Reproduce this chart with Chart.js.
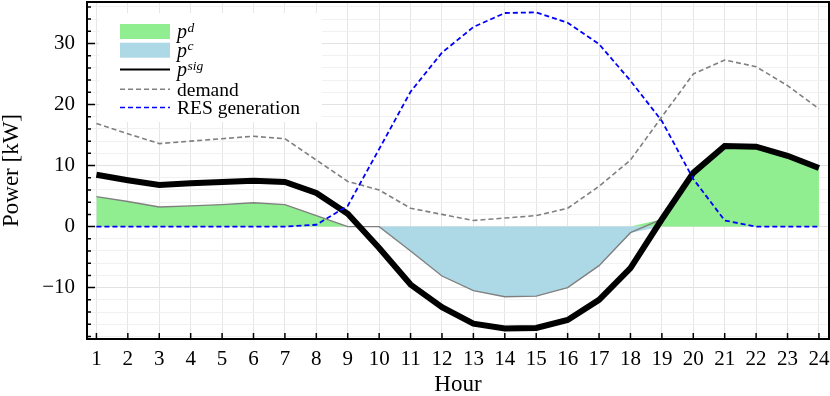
<!DOCTYPE html>
<html>
<head>
<meta charset="utf-8">
<title>Power</title>
<script src="https://cdn.jsdelivr.net/npm/chart.js@4.4.1/dist/chart.umd.min.js"></script>
<style>
  html, body { margin: 0; padding: 0; background: #fff; }
  #wrap { width: 830px; height: 396px; }
</style>
</head>
<body>
<div id="wrap"><canvas id="powerChart"></canvas></div>
<script>
// data (kW per hour)
var hours = [1, 2, 3, 4, 5, 6, 7, 8, 9, 10, 11, 12, 13, 14, 15, 16, 17, 18, 19, 20, 21, 22, 23, 24];
var pDischarge = [4.9, 4.1, 3.2, 3.4, 3.6, 3.9, 3.6, 1.8, 0, 0, 0, 0, 0, 0, 0, 0, 0, 0, 1.2, 8.8, 13.2, 13.1, 11.6, 9.6];
var pCharge = [0, 0, 0, 0, 0, 0, 0, 0, 0, 0, -4.0, -8.1, -10.5, -11.5, -11.4, -10.0, -6.4, -1.0, 0, 0, 0, 0, 0, 0];
var pNet = [4.9, 4.1, 3.2, 3.4, 3.6, 3.9, 3.6, 1.8, 0, 0, -4.0, -8.1, -10.5, -11.5, -11.4, -10.0, -6.4, -1.0, 1.2, 8.8, 13.2, 13.1, 11.6, 9.6];
var pSig = [8.5, 7.6, 6.8, 7.1, 7.3, 7.5, 7.3, 5.5, 2.1, -3.5, -9.5, -13.2, -15.9, -16.7, -16.6, -15.3, -12.0, -6.8, 1.2, 8.8, 13.2, 13.1, 11.6, 9.6];
var demand = [16.9, 15.2, 13.6, 14.0, 14.4, 14.8, 14.4, 10.9, 7.4, 6.0, 3.0, 2.0, 1.0, 1.4, 1.8, 3.0, 6.6, 10.9, 18.0, 25.0, 27.3, 26.2, 23.1, 19.3];
var resGeneration = [0, 0, 0, 0, 0, 0, 0, 0.3, 3.4, 12.7, 22.1, 28.5, 32.7, 35.0, 35.1, 33.4, 29.9, 23.9, 17.3, 7.8, 1.0, 0, 0, 0];
var yLabelTicks = [-10, 0, 10, 20, 30];

var SERIF = "'Liberation Serif', 'DejaVu Serif', serif";

function toPoints(values) {
    return values.map(function (v, i) { return { x: hours[i], y: v }; });
}

// legend drawn inside the plot, top left
var legendItems = [
    { kind: 'box', color: '#90ee90', base: 'p', sup: 'd' },
    { kind: 'box', color: '#add8e6', base: 'p', sup: 'c' },
    { kind: 'line', color: '#000000', width: 2, dash: [], base: 'p', sup: 'sig' },
    { kind: 'line', color: '#808080', width: 1.6, dash: [5, 3], text: 'demand' },
    { kind: 'line', color: '#0000ff', width: 1.6, dash: [5, 3], text: 'RES generation' }
];

var insideLegend = {
    id: 'insideLegend',
    afterDatasetsDraw: function (chart) {
        var ctx = chart.ctx;
        var rows = [31.5, 50.2, 69.5, 89.2, 107.5];
        ctx.save();
        ctx.fillStyle = '#ffffff';
        ctx.fillRect(99, 13, 223, 109);
        legendItems.forEach(function (it, i) {
            var cy = rows[i];
            if (it.kind === 'box') {
                ctx.fillStyle = it.color;
                ctx.fillRect(120, cy - 7.5, 50, 15);
            } else {
                ctx.strokeStyle = it.color;
                ctx.lineWidth = it.width;
                ctx.setLineDash(it.dash);
                ctx.beginPath();
                ctx.moveTo(120, cy);
                ctx.lineTo(170, cy);
                ctx.stroke();
                ctx.setLineDash([]);
            }
            ctx.fillStyle = '#000';
            ctx.textBaseline = 'alphabetic';
            ctx.textAlign = 'left';
            var base = cy + 6.5;
            if (it.text) {
                ctx.font = '19.5px ' + SERIF;
                ctx.fillText(it.text, 177, base);
            } else {
                ctx.font = 'italic 20px ' + SERIF;
                ctx.fillText(it.base, 177, base);
                var w = ctx.measureText(it.base).width;
                ctx.font = 'italic 13.5px ' + SERIF;
                ctx.fillText(it.sup, 177 + w + 0.5, base - 6.5);
            }
        });
        ctx.restore();
    }
};

// inward ticks and full frame round the plot
var frame = {
    id: 'frame',
    afterDraw: function (chart) {
        var ctx = chart.ctx;
        var a = chart.chartArea;
        var xs = chart.scales.x, ys = chart.scales.y;
        ctx.save();
        ctx.strokeStyle = '#000';
        ctx.lineWidth = 1.5;
        ctx.beginPath();
        xs.ticks.forEach(function (t) {
            var px = xs.getPixelForValue(t.value);
            ctx.moveTo(px, a.bottom);
            ctx.lineTo(px, a.bottom - 6);
        });
        ys.ticks.forEach(function (t) {
            var py = ys.getPixelForValue(t.value);
            var len = (Math.abs(t.value % 10) < 1e-9) ? 8 : 4;
            ctx.moveTo(a.left, py);
            ctx.lineTo(a.left + len, py);
        });
        ctx.stroke();
        ctx.lineWidth = 2;
        ctx.strokeRect(a.left, a.top, a.right - a.left, a.bottom - a.top);
        ctx.restore();
    }
};

var ctx = document.getElementById('powerChart').getContext('2d');

var powerChart = new Chart(ctx, {
    type: 'line',
    data: {
        datasets: [{
            label: 'RES generation',
            data: toPoints(resGeneration),
            borderColor: '#0000ff',
            borderWidth: 1.8,
            borderDash: [5, 3],
            order: 0
        }, {
            label: 'demand',
            data: toPoints(demand),
            borderColor: '#808080',
            borderWidth: 1.6,
            borderDash: [5, 3],
            order: 1
        }, {
            label: 'p sig',
            data: toPoints(pSig),
            borderColor: '#000000',
            borderWidth: 6,
            order: 2
        }, {
            label: 'net',
            data: toPoints(pNet),
            borderColor: '#808080',
            borderWidth: 1.4,
            order: 3
        }, {
            label: 'p c',
            data: toPoints(pCharge),
            borderColor: 'rgba(0,0,0,0)',
            backgroundColor: '#add8e6',
            fill: 'origin',
            order: 4
        }, {
            label: 'p d',
            data: toPoints(pDischarge),
            borderColor: 'rgba(0,0,0,0)',
            backgroundColor: '#90ee90',
            fill: 'origin',
            order: 5
        }]
    },
    options: {
        responsive: true,
        maintainAspectRatio: false,
        animation: false,
        devicePixelRatio: 1,
        elements: {
            point: { radius: 0, hoverRadius: 0 },
            line: { tension: 0 }
        },
        layout: { padding: { top: 2, right: 1, left: 0, bottom: 0 } },
        plugins: {
            legend: { display: false },
            tooltip: { enabled: false }
        },
        scales: {
            x: {
                type: 'linear',
                min: 0.7,
                max: 24.32,
                afterFit: function (s) {
                    s.height = 57;
                    s.paddingLeft = 0;
                    s.paddingRight = 0;
                },
                ticks: {
                    stepSize: 1,
                    autoSkip: false,
                    maxRotation: 0,
                    includeBounds: false,
                    padding: 8,
                    color: '#000',
                    font: { family: SERIF, size: 21 }
                },
                grid: { color: '#e6e6e6', lineWidth: 1, drawTicks: false },
                border: { display: false },
                title: {
                    display: true,
                    text: 'Hour',
                    color: '#000',
                    padding: 0,
                    font: { family: SERIF, size: 23, lineHeight: 1 }
                }
            },
            y: {
                min: -18.42,
                max: 36.8,
                afterFit: function (s) {
                    s.width = 87;
                    s.paddingTop = 0;
                    s.paddingBottom = 0;
                },
                ticks: {
                    stepSize: 2,
                    autoSkip: false,
                    includeBounds: false,
                    padding: 12,
                    color: '#000',
                    font: { family: SERIF, size: 21 },
                    callback: function (v) {
                        if (yLabelTicks.indexOf(v) < 0) return '';
                        return v < 0 ? '\u2212' + Math.abs(v) : String(v);
                    }
                },
                grid: {
                    drawTicks: false,
                    lineWidth: 1,
                    color: function (c) {
                        return (c.tick && yLabelTicks.indexOf(c.tick.value) >= 0) ? '#e2e2e2' : '#f1f1f1';
                    }
                },
                border: { display: false },
                title: {
                    display: true,
                    text: 'Power [kW]',
                    color: '#000',
                    padding: 0,
                    font: { family: SERIF, size: 23, lineHeight: 1 }
                }
            }
        }
    },
    plugins: [insideLegend, frame]
});
</script>
</body>
</html>
